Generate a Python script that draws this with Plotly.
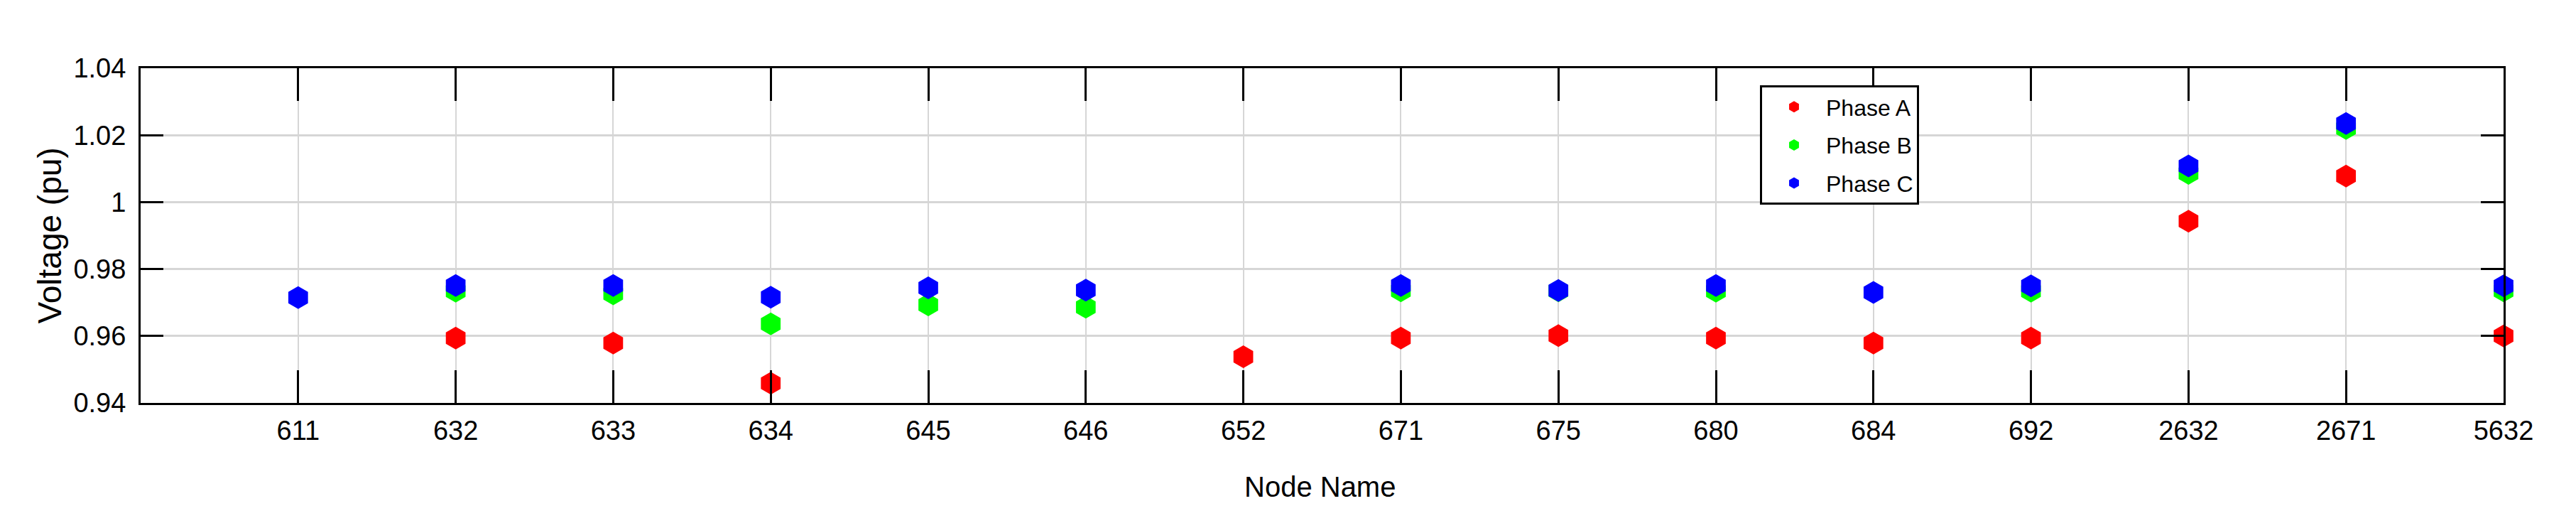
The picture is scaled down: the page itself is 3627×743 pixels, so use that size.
import plotly.graph_objects as go

nodes = ["611", "632", "633", "634", "645", "646", "652", "671", "675",
         "680", "684", "692", "2632", "2671", "5632"]
phase_a = [None, 0.9594, 0.9579, 0.9459, None, None, 0.9538, 0.9594, 0.9601,
           0.9594, 0.9579, 0.9594, 0.9943, 1.0078, 0.9600]
phase_b = [None, 0.9734, 0.9726, 0.9636, 0.9693, 0.9686, None, 0.9735, 0.9735,
           0.9734, None, 0.9734, 1.0086, 1.0220, 0.9735]
phase_c = [0.9715, 0.9751, 0.9751, 0.9716, 0.9744, 0.9737, None, 0.9751, 0.9736,
           0.9751, 0.9730, 0.9750, 1.0108, 1.0235, 0.9750]
y_ticks = [0.94, 0.96, 0.98, 1.00, 1.02, 1.04]
y_tick_text = ["0.94", "0.96", "0.98", "1", "1.02", "1.04"]

x_pos = list(range(1, len(nodes) + 1))

NARROW = "Liberation Sans Narrow, Arial Narrow, Liberation Sans, Arial, sans-serif"
REG = "Liberation Sans, Arial, sans-serif"

fig = go.Figure()
for name, vals, col in [("Phase A", phase_a, "#ff0000"),
                        ("Phase B", phase_b, "#00ff00"),
                        ("Phase C", phase_c, "#0000ff")]:
    fig.add_trace(go.Scatter(
        x=x_pos, y=vals, mode="markers", name=name, legendgroup=name,
        cliponaxis=False,
        marker=dict(symbol="hexagon", size=32, color=col, line=dict(width=0)),
    ))

fig.update_layout(
    width=3627, height=743,
    margin=dict(l=190, r=110, t=88, b=184),
    paper_bgcolor="white", plot_bgcolor="white",
    font=dict(family=NARROW, size=38, color="black"),
    showlegend=True,
    legend=dict(
        x=0.6853, y=0.949, xanchor="left", yanchor="top",
        bgcolor="white", bordercolor="black", borderwidth=3,
        font=dict(family=NARROW, size=32, color="black"),
        tracegroupgap=9, itemsizing="trace", itemwidth=80,
    ),
    xaxis=dict(
        range=[0, 15], tickmode="array", tickvals=x_pos, ticktext=nodes,
        showgrid=True, gridcolor="#d6d6d6", gridwidth=1.5,
        zeroline=False,
        showline=True, linecolor="black", linewidth=3, mirror="ticks",
        ticks="inside", ticklen=46, tickwidth=2.5, tickcolor="black",
        ticklabelstandoff=3,
        tickfont=dict(family=NARROW, size=38),
    ),
    yaxis=dict(
        range=[0.94, 1.04], tickmode="array", tickvals=y_ticks, ticktext=y_tick_text,
        showgrid=True, gridcolor="#d6d6d6", gridwidth=3,
        zeroline=False,
        showline=True, linecolor="black", linewidth=3, mirror="ticks",
        ticks="inside", ticklen=32, tickwidth=3, tickcolor="black",
        ticklabelstandoff=10,
        tickfont=dict(family=NARROW, size=38),
    ),
    annotations=[
        dict(text="Node Name", xref="paper", yref="paper", x=0.4992, y=-0.2505,
             xanchor="center", yanchor="middle", showarrow=False,
             font=dict(family=NARROW, size=40, color="black")),
        dict(text="Voltage (pu)", xref="paper", yref="paper", x=-0.0385, y=0.5,
             xanchor="center", yanchor="middle", showarrow=False, textangle=-90,
             font=dict(family=REG, size=46, color="black")),
    ],
)

fig.write_html("out.html")
